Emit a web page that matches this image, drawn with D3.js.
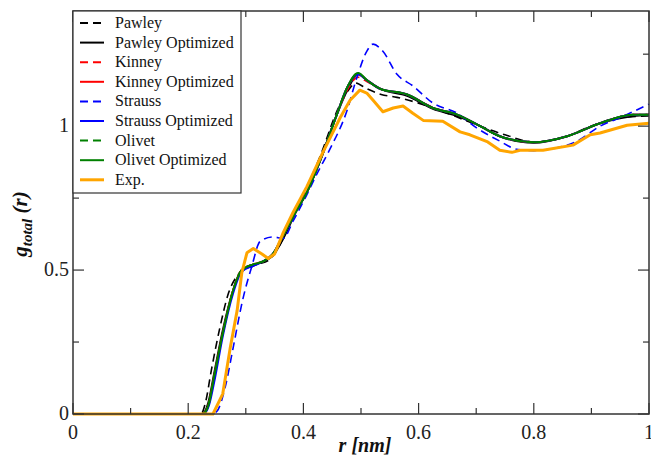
<!DOCTYPE html>
<html lang="en">
<head>
<meta charset="UTF-8">
<title>g_total(r)</title>
<style>
  body, html { margin: 0; padding: 0; background: #fff; overflow: hidden; }
  svg { display: block; }
  .frame { fill: none; stroke: #333; stroke-width: 1.5px; }
  .tick { stroke: #333; stroke-width: 1.2px; }
</style>
</head>
<body>
<script src="https://d3js.org/d3.v7.min.js"></script>
<script>
// series names, in legend order
const names = ["Pawley", "Pawley Optimized", "Kinney", "Kinney Optimized",
               "Strauss", "Strauss Optimized", "Olivet", "Olivet Optimized", "Exp."];
const colors = ["#000", "#000", "#ff0000", "#ff0000", "#0000ff", "#0000ff", "#008000", "#008000", "#ffa500"];
const dashed = [true, false, true, false, true, false, true, false, false];

// r [nm] and g(r)
const pawleyR = [0, 0.222, 0.23, 0.24, 0.255, 0.27, 0.285, 0.30, 0.32, 0.34, 0.36, 0.38, 0.40, 0.43, 0.46, 0.48, 0.49, 0.51, 0.535, 0.5625, 0.60, 0.65, 0.70, 0.75, 0.80, 0.85, 0.90, 0.95, 1.0];
const pawleyG = [0, 0, 0.04, 0.15, 0.30, 0.42, 0.48, 0.505, 0.52, 0.535, 0.59, 0.68, 0.76, 0.90, 1.06, 1.13, 1.15, 1.13, 1.11, 1.10, 1.08, 1.045, 1.005, 0.97, 0.945, 0.96, 1.0, 1.03, 1.035];

const pawleyOptR = [0, 0.224, 0.235, 0.245, 0.26, 0.278, 0.293, 0.313, 0.33, 0.347, 0.365, 0.389, 0.406, 0.429, 0.458, 0.475, 0.495, 0.51, 0.533, 0.58, 0.625, 0.667, 0.707, 0.741, 0.80, 0.858, 0.915, 0.972, 1.0];
const pawleyOptG = [0, 0, 0.04, 0.14, 0.29, 0.43, 0.50, 0.515, 0.53, 0.55, 0.61, 0.71, 0.77, 0.88, 1.04, 1.12, 1.18, 1.16, 1.13, 1.105, 1.06, 1.035, 1.0, 0.965, 0.942, 0.965, 1.01, 1.035, 1.04];

const kinneyR = [0, 0.225, 0.235, 0.245, 0.26, 0.278, 0.293, 0.313, 0.33, 0.347, 0.365, 0.389, 0.406, 0.429, 0.458, 0.475, 0.495, 0.51, 0.533, 0.58, 0.625, 0.667, 0.707, 0.741, 0.80, 0.858, 0.915, 0.972, 1.0];
const kinneyG = [0, 0, 0.03, 0.13, 0.28, 0.43, 0.50, 0.52, 0.53, 0.555, 0.62, 0.71, 0.77, 0.88, 1.04, 1.12, 1.17, 1.155, 1.13, 1.11, 1.065, 1.04, 1.0, 0.965, 0.944, 0.965, 1.01, 1.04, 1.04];

const kinneyOptR = [0, 0.225, 0.235, 0.245, 0.26, 0.278, 0.293, 0.313, 0.33, 0.347, 0.365, 0.389, 0.406, 0.429, 0.458, 0.475, 0.495, 0.51, 0.533, 0.58, 0.625, 0.667, 0.707, 0.741, 0.80, 0.858, 0.915, 0.972, 1.0];
const kinneyOptG = [0, 0, 0.03, 0.13, 0.28, 0.43, 0.50, 0.52, 0.53, 0.556, 0.62, 0.71, 0.77, 0.88, 1.04, 1.13, 1.18, 1.16, 1.13, 1.11, 1.063, 1.04, 1.0, 0.965, 0.944, 0.965, 1.01, 1.04, 1.04];

const straussR = [0, 0.24, 0.25, 0.265, 0.278, 0.295, 0.31, 0.325, 0.347, 0.365, 0.382, 0.403, 0.425, 0.446, 0.475, 0.493, 0.51, 0.521, 0.538, 0.5625, 0.59, 0.625, 0.667, 0.70, 0.741, 0.77, 0.80, 0.828, 0.875, 0.915, 0.95, 0.972, 1.0];
const straussG = [0, 0, 0.01, 0.10, 0.23, 0.40, 0.51, 0.60, 0.615, 0.61, 0.67, 0.75, 0.84, 0.92, 1.05, 1.17, 1.26, 1.285, 1.26, 1.18, 1.14, 1.08, 1.045, 0.995, 0.948, 0.92, 0.915, 0.92, 0.948, 1.0, 1.03, 1.05, 1.077];

const straussOptR = [0, 0.226, 0.236, 0.246, 0.26, 0.278, 0.293, 0.313, 0.33, 0.347, 0.365, 0.389, 0.406, 0.429, 0.458, 0.475, 0.495, 0.51, 0.533, 0.58, 0.625, 0.667, 0.707, 0.741, 0.80, 0.858, 0.915, 0.972, 1.0];
const straussOptG = [0, 0, 0.03, 0.12, 0.27, 0.42, 0.495, 0.515, 0.53, 0.556, 0.62, 0.71, 0.77, 0.88, 1.04, 1.13, 1.18, 1.16, 1.13, 1.11, 1.063, 1.04, 1.0, 0.965, 0.944, 0.965, 1.01, 1.04, 1.04];

const olivetR = [0, 0.225, 0.235, 0.245, 0.26, 0.278, 0.293, 0.313, 0.33, 0.347, 0.365, 0.389, 0.406, 0.429, 0.458, 0.475, 0.495, 0.51, 0.533, 0.58, 0.625, 0.667, 0.707, 0.741, 0.80, 0.858, 0.915, 0.972, 1.0];
const olivetG = [0, 0, 0.03, 0.13, 0.28, 0.43, 0.50, 0.52, 0.53, 0.556, 0.62, 0.71, 0.77, 0.88, 1.04, 1.13, 1.185, 1.16, 1.13, 1.11, 1.063, 1.04, 1.0, 0.965, 0.944, 0.965, 1.01, 1.04, 1.04];

const olivetOptR = [0, 0.225, 0.235, 0.245, 0.26, 0.278, 0.293, 0.313, 0.33, 0.347, 0.365, 0.389, 0.406, 0.429, 0.458, 0.475, 0.495, 0.51, 0.533, 0.58, 0.625, 0.667, 0.707, 0.741, 0.80, 0.858, 0.915, 0.972, 1.0];
const olivetOptG = [0, 0, 0.03, 0.13, 0.28, 0.43, 0.50, 0.52, 0.53, 0.556, 0.62, 0.71, 0.77, 0.88, 1.04, 1.13, 1.185, 1.16, 1.13, 1.11, 1.063, 1.04, 1.0, 0.965, 0.944, 0.965, 1.01, 1.04, 1.04];

const expR = [0, 0.243, 0.26, 0.273, 0.285, 0.293, 0.302, 0.313, 0.328, 0.339, 0.35, 0.365, 0.382, 0.406, 0.434, 0.464, 0.481, 0.498, 0.51, 0.521, 0.538, 0.556, 0.573, 0.59, 0.608, 0.642, 0.672, 0.689, 0.72, 0.741, 0.762, 0.776, 0.816, 0.868, 0.898, 0.915, 0.962, 1.0];
const expG = [0, 0, 0.07, 0.23, 0.36, 0.49, 0.56, 0.575, 0.556, 0.54, 0.556, 0.63, 0.70, 0.79, 0.91, 1.03, 1.09, 1.125, 1.115, 1.09, 1.05, 1.063, 1.07, 1.045, 1.02, 1.017, 0.98, 0.97, 0.945, 0.916, 0.909, 0.916, 0.916, 0.934, 0.97, 0.976, 1.003, 1.01];

const xMajor = [0, 0.2, 0.4, 0.6, 0.8, 1];
const xMinor = [0.1, 0.3, 0.5, 0.7, 0.9];
const yMajor = [0, 0.5, 1];
const yMinor = [0.25, 0.75, 1.25];

const seriesR = [pawleyR, pawleyOptR, kinneyR, kinneyOptR, straussR, straussOptR, olivetR, olivetOptR, expR];
const seriesG = [pawleyG, pawleyOptG, kinneyG, kinneyOptG, straussG, straussOptG, olivetG, olivetOptG, expG];

const W = 651, H = 457;
const pLeft = 73, pRight = 649, pTop = 11, pBottom = 414;

const x = d3.scaleLinear().domain([0, 1]).range([pLeft, pRight]);
const y = d3.scaleLinear().domain([0, 1.4]).range([pBottom, pTop]);

const svg = d3.select("body").append("svg")
    .attr("width", W).attr("height", H)
    .style("font-family", '"Liberation Serif", "Times New Roman", serif');

// curves
const line = d3.line().x(d => x(d[0])).y(d => y(d[1]));
const curves = svg.append("g");
names.forEach((n, i) => {
    const pts = seriesR[i].map((r, k) => [r, seriesG[i][k]]);
    curves.append("path")
        .datum(pts)
        .attr("fill", "none")
        .attr("stroke", colors[i])
        .attr("stroke-width", i === 8 ? 3 : (dashed[i] ? 1.6 : 2))
        .attr("stroke-dasharray", dashed[i] ? "8,5" : null)
        .attr("stroke-linejoin", "round")
        .attr("d", line.curve(i === 8 ? d3.curveLinear : d3.curveMonotoneX));
});

// frame with inward ticks on all four sides
svg.append("rect").attr("class", "frame")
    .attr("x", pLeft).attr("y", pTop).attr("width", pRight - pLeft).attr("height", pBottom - pTop);

const ticks = svg.append("g");
function xTick(v, len) {
    ticks.append("line").attr("class", "tick").attr("x1", x(v)).attr("x2", x(v)).attr("y1", pBottom).attr("y2", pBottom - len);
    ticks.append("line").attr("class", "tick").attr("x1", x(v)).attr("x2", x(v)).attr("y1", pTop).attr("y2", pTop + len);
}
function yTick(v, len) {
    ticks.append("line").attr("class", "tick").attr("y1", y(v)).attr("y2", y(v)).attr("x1", pLeft).attr("x2", pLeft + len);
    ticks.append("line").attr("class", "tick").attr("y1", y(v)).attr("y2", y(v)).attr("x1", pRight).attr("x2", pRight - len);
}
xMajor.forEach(v => xTick(v, 11));
xMinor.forEach(v => xTick(v, 6));
yMajor.forEach(v => yTick(v, 11));
yMinor.forEach(v => yTick(v, 6));

// tick labels
svg.append("g").selectAll("text").data(xMajor).join("text")
    .attr("x", d => x(d)).attr("y", pBottom + 25)
    .attr("text-anchor", "middle").attr("font-size", 20).attr("fill", "#222")
    .text(d => d3.format("~g")(d));
svg.append("g").selectAll("text").data(yMajor).join("text")
    .attr("x", pLeft - 4).attr("y", d => y(d) + 6)
    .attr("text-anchor", "end").attr("font-size", 20).attr("fill", "#222")
    .text(d => d3.format("~g")(d));

// axis titles
svg.append("text")
    .attr("x", 365).attr("y", 452)
    .attr("text-anchor", "middle").attr("font-size", 20).attr("fill", "#111")
    .attr("font-weight", "bold").attr("font-style", "italic")
    .text("r [nm]");

const yl = svg.append("text")
    .attr("transform", "translate(27,224) rotate(-90)")
    .attr("text-anchor", "middle").attr("font-size", 21).attr("fill", "#111")
    .attr("font-weight", "bold").attr("font-style", "italic");
yl.append("tspan").text("g");
yl.append("tspan").attr("font-size", 15).attr("dy", 5).text("total");
yl.append("tspan").attr("dy", -5).text(" (r)");

// legend
const lg = svg.append("g");
lg.append("rect")
    .attr("x", pLeft).attr("y", pTop).attr("width", 168).attr("height", 182)
    .attr("fill", "#fff").attr("stroke", "#333").attr("stroke-width", 1.2);
names.forEach((n, i) => {
    const ly = 23 + i * 19.6;
    lg.append("line")
        .attr("x1", 80).attr("x2", 104).attr("y1", ly).attr("y2", ly)
        .attr("stroke", colors[i])
        .attr("stroke-width", i === 8 ? 3 : 2)
        .attr("stroke-dasharray", dashed[i] ? "8,5" : null);
    lg.append("text")
        .attr("x", 115).attr("y", ly + 5)
        .attr("font-size", 16).attr("fill", "#111")
        .text(n);
});
</script>
</body>
</html>
